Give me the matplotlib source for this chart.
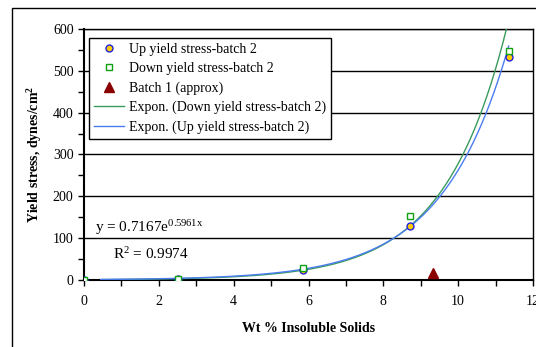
import numpy as np
import matplotlib
matplotlib.use('Agg')
import matplotlib.pyplot as plt
from matplotlib.ticker import MultipleLocator
from matplotlib.patches import Rectangle

plt.rcParams['font.family'] = ['Liberation Serif', 'DejaVu Serif']
plt.rcParams['mathtext.fontset'] = 'custom'
plt.rcParams['mathtext.rm'] = 'Liberation Serif'
plt.rcParams['mathtext.it'] = 'Liberation Serif:italic'
plt.rcParams['mathtext.bf'] = 'Liberation Serif:bold'

# data
up_x = [0, 2.52, 5.85, 8.72, 11.35]
up_y = [0, 3, 25, 128, 533]
down_x = [0, 2.52, 5.85, 8.72, 11.35]
down_y = [0, 3, 28, 152, 548]
batch1_x = [9.32]
batch1_y = [17]

# exponential trendlines y = a*exp(b*x)
down_fit = (0.7167, 0.5961)   # equation printed on the chart
up_fit = (0.971, 0.560)       # estimated from the drawn curve

fig = plt.figure(figsize=(5.36, 3.47), dpi=100)
# outer frame of the chart object
fig.patches.append(Rectangle((12 / 536, -0.2), 1.2, 1.2 - 8 / 347,
                             transform=fig.transFigure, fill=False,
                             edgecolor='black', linewidth=1.0))
ax = fig.add_axes([84 / 536, (347 - 280) / 347, 449 / 536, 251 / 347])

xs_down = np.linspace(0.45, 11.35, 300)
xs_up = np.linspace(0.45, 11.35, 300)

ax.plot(up_x, up_y, linestyle='none', marker='o', markersize=5,
        markerfacecolor='#ffcc00', markeredgecolor='#2020e0', markeredgewidth=1.0,
        label='Up yield stress-batch 2', zorder=4)
ax.plot(down_x, down_y, linestyle='none', marker='s', markersize=5,
        markerfacecolor='white', markeredgecolor='#10a010', markeredgewidth=1.0,
        label='Down yield stress-batch 2', zorder=4)
ax.plot(batch1_x, batch1_y, linestyle='none', marker='^', markersize=7,
        color='#8b0000', label='Batch 1 (approx)', zorder=4)
ax.plot(xs_down, down_fit[0] * np.exp(down_fit[1] * xs_down), color='#3a9a5c',
        linewidth=1.0, label='Expon. (Down yield stress-batch 2)', zorder=3)
ax.plot(xs_up, up_fit[0] * np.exp(up_fit[1] * xs_up), color='#4a7cf0',
        linewidth=1.0, label='Expon. (Up yield stress-batch 2)', zorder=3)

ax.set_xlim(0, 12)
ax.set_ylim(0, 600)
ax.xaxis.set_major_locator(MultipleLocator(2))
ax.xaxis.set_minor_locator(MultipleLocator(1))
ax.yaxis.set_major_locator(MultipleLocator(100))
ax.yaxis.set_minor_locator(MultipleLocator(50))
ax.tick_params(which='both', direction='out', length=4, width=1, labelsize=10)
ax.tick_params(axis='x', pad=7)
ax.grid(axis='y', which='major', color='black', linewidth=1.0)
ax.set_axisbelow(True)
for s in ax.spines.values():
    s.set_linewidth(1.0)
ax.spines['left'].set_linewidth(1.5)
ax.spines['bottom'].set_linewidth(1.5)

ax.set_xlabel('Wt % Insoluble Solids', fontsize=10, fontweight='bold', labelpad=10)
ax.set_ylabel('Yield stress, dynes/cm$^\\mathbf{2}$', fontsize=10, fontweight='bold', labelpad=6)

ax.text(0.3, 103, 'y = 0.7167e$^{\\mathrm{0.5961x}}$', fontsize=11, va='bottom')
ax.text(0.78, 80, 'R$^{\\mathrm{2}}$ = 0.9974', fontsize=11, va='top')

leg = ax.legend(loc='upper left', bbox_to_anchor=(0.011, 0.965), borderaxespad=0,
                fontsize=10, frameon=True, fancybox=False, edgecolor='black',
                framealpha=1, borderpad=0.35, labelspacing=0.45,
                handlelength=2.2, handletextpad=0.3)
leg.get_frame().set_linewidth(1.0)

fig.savefig('out.png', dpi=100)
